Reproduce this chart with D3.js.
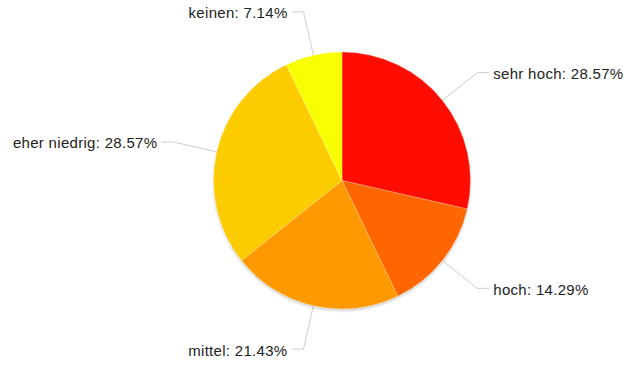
<!DOCTYPE html>
<html>
<head>
<meta charset="utf-8">
<script src="https://cdn.jsdelivr.net/npm/d3@7"></script>
<style>
  html, body { margin: 0; padding: 0; background: #fff; }
  svg { display: block; }
</style>
</head>
<body>
<div id="chart"></div>
<script>
const categories = ["sehr hoch", "hoch", "mittel", "eher niedrig", "keinen"];
const values = [28.57, 14.29, 21.43, 28.57, 7.14];
const colors = ["#ff1000", "#ff6600", "#ff9900", "#fccc00", "#f9ff00"];

const W = 629, H = 365;
const cx = 342, cy = 180.5, R = 128.5;
const elbowR = 173;

const svg = d3.select("#chart").append("svg").attr("width", W).attr("height", H);

const defs = svg.append("defs");
const f = defs.append("filter").attr("id", "shadow").attr("x", "-10%").attr("y", "-10%").attr("width", "120%").attr("height", "120%");
f.append("feDropShadow").attr("dx", 0).attr("dy", 1.5).attr("stdDeviation", 1.2)
  .attr("flood-color", "#000").attr("flood-opacity", 0.25);

const data = categories.map((c, i) => ({ cat: c, value: values[i], color: colors[i] }));
const pie = d3.pie().sort(null).value(d => d.value);
const arcs = pie(data);
const arc = d3.arc().innerRadius(0).outerRadius(R);

const g = svg.append("g").attr("transform", `translate(${cx},${cy})`);

// leader lines
const lines = g.append("g");
arcs.forEach(a => {
  const mid = (a.startAngle + a.endAngle) / 2;
  const sx = Math.sin(mid), sy = -Math.cos(mid);
  const p0 = [sx * R, sy * R];
  const p1 = [sx * elbowR, sy * elbowR];
  const right = sx >= 0;
  const p2 = [p1[0] + (right ? 12 : -12), p1[1]];
  lines.append("polyline")
    .attr("points", [p0, p1, p2].map(p => p.join(",")).join(" "))
    .attr("fill", "none").attr("stroke", "#cccccc").attr("stroke-width", 1);
  g.append("text")
    .attr("x", p1[0] + (right ? 16 : -16))
    .attr("y", p1[1] + 1)
    .attr("text-anchor", right ? "start" : "end")
    .attr("dominant-baseline", "central")
    .attr("font-family", "'Liberation Sans', Arial, sans-serif")
    .attr("font-size", 15)
    .attr("letter-spacing", 0.3)
    .attr("fill", "#222")
    .text(`${a.data.cat}: ${a.data.value.toFixed(2)}%`);
});

const slices = g.append("g").attr("filter", "url(#shadow)");
slices.selectAll("path").data(arcs).enter().append("path")
  .attr("d", arc)
  .attr("fill", d => d.data.color)
  .attr("stroke", "rgba(255,255,255,0.4)")
  .attr("stroke-width", 0.6);
</script>
</body>
</html>
